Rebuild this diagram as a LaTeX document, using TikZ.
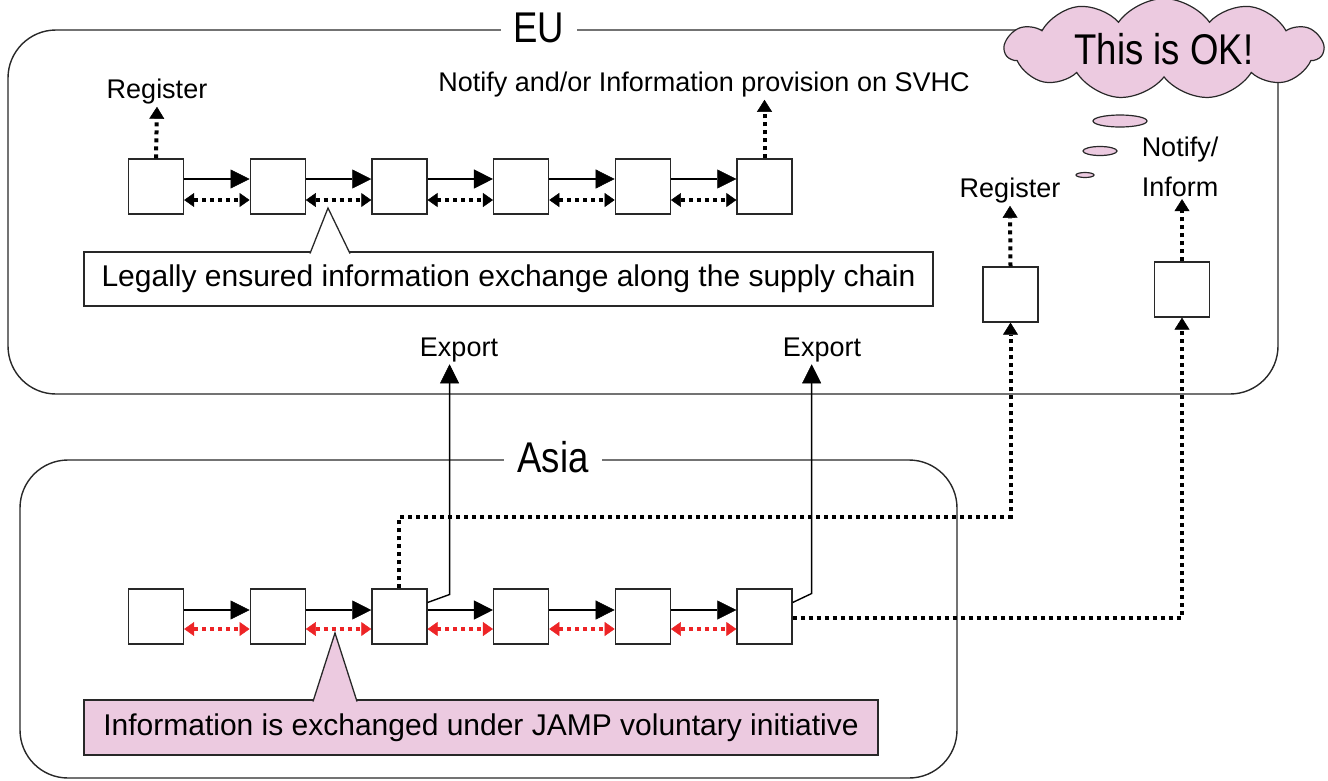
\documentclass[tikz,border=0pt]{standalone}
\usepackage{fontspec}
\setmainfont{Liberation Sans}
\newfontfamily\anchafont[FakeStretch=0.85]{Liberation Sans}
\usetikzlibrary{arrows.meta,shapes.symbols}

\definecolor{rosa}{RGB}{236,202,224}
\definecolor{rojo}{RGB}{237,36,38}
\definecolor{borde}{RGB}{40,40,40}

\tikzset{
  caja/.style={draw=borde,line width=1.3pt,fill=white,minimum width=55pt,minimum height=55pt,inner sep=0pt},
  marco/.style={draw=borde,line width=1.4pt,rounded corners=48pt},
  titulo/.style={fill=white,inner xsep=13pt,inner ysep=2pt,font=\anchafont\fontsize{43}{50}\selectfont},
  etiqueta/.style={inner sep=2pt,font=\fontsize{27}{40}\selectfont},
  nota/.style={draw=borde,line width=1.3pt,inner sep=0pt,font=\fontsize{30}{36}\selectfont},
  flujo/.style={line width=1.4pt,-{Triangle[length=19pt,width=19pt,line width=0.5pt]}},
  intercambio/.style={line width=4pt,dash pattern=on 4pt off 4pt,
    {Triangle[length=10pt,width=14pt,line width=0.5pt]}-{Triangle[length=10pt,width=14pt,line width=0.5pt]}},
  aviso/.style={line width=4pt,dash pattern=on 4pt off 4pt,-{Triangle[length=12pt,width=15pt,line width=0.5pt]}},
  nube/.style={cloud,cloud puffs=11,cloud puff arc=110,aspect=3.8,draw=borde,line width=1.2pt,
    fill=rosa,minimum width=318pt,minimum height=76pt,inner sep=0pt,font=\anchafont\fontsize{43}{50}\selectfont},
  burbuja/.style={draw=borde,line width=1.2pt,fill=rosa}
}

\begin{document}
\begin{tikzpicture}[x=1pt,y=-1pt]
  \useasboundingbox (0,0) rectangle (1328,780);

  % Regiones
  \draw[marco] (8,30) rectangle (1278,394);
  \node[titulo] (eu) at (539,27.5) {EU};
  \draw[marco] (20,460) rectangle (957,778);
  \node[titulo] (asia) at (553,457.5) {Asia};

  % Nube
  \node[nube] (ok) at (1164,49) {This is OK!};
  \filldraw[burbuja] (1120,121) ellipse [x radius=27pt,y radius=6pt];
  \filldraw[burbuja] (1100,151) ellipse [x radius=17pt,y radius=4.5pt];
  \filldraw[burbuja] (1085,175) ellipse [x radius=9pt,y radius=2.5pt];

  % Cadenas de suministro
  \foreach \i in {1,...,6}{
    \node[caja] (u\i) at ({156+121.7*(\i-1)},186.5) {};
    \node[caja] (a\i) at ({156+121.7*(\i-1)},616.5) {};
  }
  \foreach \i [evaluate=\i as \j using int(\i+1)] in {1,...,5}{
    \draw[flujo] ([yshift=7.5pt]u\i.east) -- ([yshift=7.5pt]u\j.west);
    \draw[intercambio] ([yshift=-13.5pt]u\i.east) -- ([yshift=-13.5pt]u\j.west);
    \draw[flujo] ([yshift=6.5pt]a\i.east) -- ([yshift=6.5pt]a\j.west);
    \draw[intercambio,rojo] ([yshift=-12.5pt]a\i.east) -- ([yshift=-12.5pt]a\j.west);
  }

  % Etiquetas
  \node[etiqueta] (reg1) at (157,92) {Register};
  \node[etiqueta] (notif) at (704,85) {Notify and/or Information provision on SVHC};
  \node[etiqueta] (reg2) at (1010,191) {Register};
  \node[etiqueta,align=left] (inf) at (1180,167) {Notify/\\Inform};
  \node[etiqueta] (exp1) at (459,350) {Export};
  \node[etiqueta] (exp2) at (822,350) {Export};

  \draw[aviso] (u1.north) -- (reg1.south);
  \draw[aviso] (u6.north) -- (u6.north |- notif.south);

  % Importadores en la UE
  \node[caja] (r1) at (1010.5,294.5) {};
  \node[caja] (r2) at (1182,289.5) {};
  \draw[aviso] (r1.north) -- (reg2.south);
  \draw[aviso] (r2.north) -- (r2.north |- inf.south);
  \draw[aviso] (a3.north) -- ++(0,-71) -| (r1.south);
  \draw[aviso] ([yshift=-1pt]a6.east) -| (r2.south);

  % Exportaciones
  \draw[flujo] ([yshift=14pt]a3.east) -- ++(22,-8) coordinate (s1) -- (s1 |- exp1.south);
  \draw[flujo] ([yshift=14pt]a6.east) -- ++(19,-9) coordinate (s2) -- (s2 |- exp2.south);

  % Notas
  \node[nota,fill=white,minimum width=849pt,minimum height=54pt] (legal) at (508.5,279)
    {Legally ensured information exchange along the supply chain};
  \filldraw[fill=white,draw=borde,line width=1.3pt] (310,253.5) -- (328,208) -- (350,253.5);
  \node[nota,fill=rosa,minimum width=794pt,minimum height=55pt] (jamp) at (481,727.5)
    {Information is exchanged under JAMP voluntary initiative};
  \filldraw[fill=rosa,draw=borde,line width=1.3pt] (313,701.5) -- (335,633) -- (357,701.5);
\end{tikzpicture}
\end{document}
